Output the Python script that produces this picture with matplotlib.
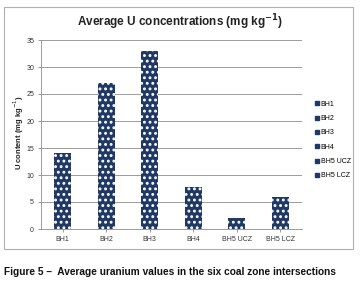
import matplotlib
matplotlib.use("Agg")
import matplotlib.pyplot as plt
from matplotlib.lines import Line2D
from matplotlib.patches import Rectangle

categories = ["BH1", "BH2", "BH3", "BH4", "BH5 UCZ", "BH5 LCZ"]
values = [14.1, 27.1, 33.0, 7.7, 2.1, 6.0]
yticks = [0, 5, 10, 15, 20, 25, 30, 35]

navy = "#1f3864"
W, H = 361, 286
fig = plt.figure(figsize=(W/100, H/100), dpi=100)
plt.rcParams['font.family'] = ['Liberation Sans', 'DejaVu Sans']
plt.rcParams['hatch.linewidth'] = 1.3

# chart border box
fig.patches.append(Rectangle((4/W, 1-249/H), (353-4)/W, (249-7)/H, transform=fig.transFigure,
                             fill=False, edgecolor="#b0b0b0", linewidth=0.8))

ax = fig.add_axes([41/W, 1-229/H, (302-41)/W, (229-40)/H])
x = range(len(categories))
ax.bar(x, values, width=0.4, color=navy, edgecolor="white", hatch="...", linewidth=0, zorder=3)
ax.set_xlim(-0.5, len(categories)-0.5)
ax.set_ylim(0, 35)
ax.set_yticks(yticks)
ax.set_yticklabels([str(t) for t in yticks], fontsize=5, color="#333333")
ax.set_xticks(list(x))
ax.set_xticklabels(categories, fontsize=5, color="#333333")
ax.grid(axis="y", color="#8c8c8c", linewidth=0.6, zorder=0)
for s in ["top", "right"]:
    ax.spines[s].set_visible(False)
ax.spines["left"].set_color("#8c8c8c")
ax.spines["bottom"].set_color("#8c8c8c")
ax.spines["left"].set_linewidth(0.6)
ax.spines["bottom"].set_linewidth(0.6)
ax.tick_params(axis="both", length=2, width=0.6, color="#8c8c8c", pad=3)

fig.text(19/W, 1-133/H, "U content (mg kg$^{-1}$)", rotation=90, ha="center", va="center",
         fontsize=5.5, fontweight="bold", color="#222222")

fig.text(180/W, 1-22/H, "Average U concentrations (mg kg$^{\\mathbf{-1}}$)", ha="center", va="center",
         fontsize=8.5, fontweight="bold", color="#222222")

handles = [Line2D([], [], marker="s", color=navy, linestyle="none", markersize=2.5) for _ in categories]
fig.legend(handles, categories, loc="center left", bbox_to_anchor=(309/W, 1-140/H), frameon=False,
           fontsize=5, handlelength=0.5, handletextpad=0.3, labelspacing=1.05)

fig.text(4/W, 1-272/H, "Figure 5 \u2013  Average uranium values in the six coal zone intersections",
         ha="left", va="center", fontsize=7.3, fontweight="bold", color="#111111")

fig.savefig("out.png", dpi=100)
